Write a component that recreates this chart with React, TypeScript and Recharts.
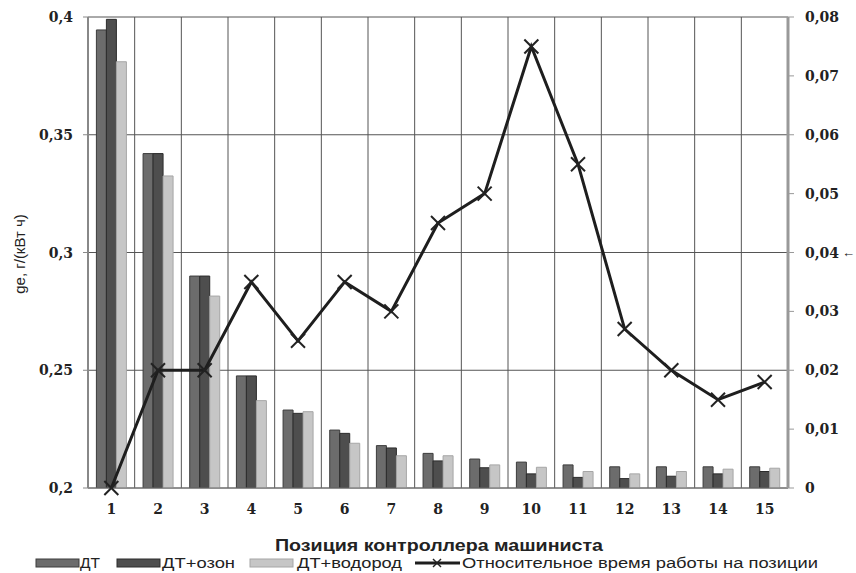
import React from 'react';
import { ComposedChart, Bar, Line, XAxis, YAxis, CartesianGrid } from 'recharts';

const positions = ['1', '2', '3', '4', '5', '6', '7', '8', '9', '10', '11', '12', '13', '14', '15'];
const dtValues = [0.3945, 0.342, 0.29, 0.2476, 0.2331, 0.2246, 0.218, 0.2147, 0.2123, 0.211, 0.2098, 0.209, 0.209, 0.209, 0.209];
const ozoneValues = [0.399, 0.342, 0.29, 0.2476, 0.2317, 0.2232, 0.217, 0.2115, 0.2086, 0.206, 0.2045, 0.204, 0.205, 0.206, 0.207];
const hydrogenValues = [0.381, 0.3325, 0.2815, 0.2371, 0.2324, 0.219, 0.2137, 0.2137, 0.2098, 0.2088, 0.207, 0.206, 0.207, 0.208, 0.2084];
const timeShare = [0, 0.02, 0.02, 0.035, 0.025, 0.035, 0.03, 0.045, 0.05, 0.075, 0.055, 0.027, 0.02, 0.015, 0.018];

const leftTicks = [0.2, 0.25, 0.3, 0.35, 0.4];
const rightTicks = [0, 0.01, 0.02, 0.03, 0.04, 0.05, 0.06, 0.07, 0.08];

const seriesNames = ['ДТ', 'ДТ+озон', 'ДТ+водород', 'Относительное время работы на позиции'];
const xTitle = 'Позиция контроллера машиниста';
const yTitle = 'ge, г/(кВт ч)';

const data = positions.map((p, i) => ({
  pos: p,
  dt: dtValues[i],
  ozone: ozoneValues[i],
  hydrogen: hydrogenValues[i],
  time: timeShare[i],
}));

const fmt = (v: number) => (v === 0 ? '0' : String(v).replace('.', ','));

const tickFont: any = { fontFamily: "'DejaVu Serif', serif", fontWeight: 'bold', fontSize: 14, fill: '#222' };

const LeftTick = (props: any) => {
  const { x, y, payload } = props;
  return (
    <text x={x} y={y} dy={5} textAnchor="end" style={tickFont}>
      {fmt(payload.value)}
    </text>
  );
};

const RightTick = (props: any) => {
  const { x, y, payload } = props;
  return (
    <text x={x} y={y} dy={5} textAnchor="start" style={tickFont}>
      {fmt(payload.value)}
    </text>
  );
};

const BottomTick = (props: any) => {
  const { x, y, payload } = props;
  return (
    <text x={x} y={y} dy={12} textAnchor="middle" style={tickFont}>
      {payload.value}
    </text>
  );
};

const CrossDot = (props: any) => {
  const { cx, cy, index } = props;
  if (cx == null || cy == null) return null;
  const s = 7;
  return (
    <g key={`x-${index}`}>
      <line x1={cx - s} y1={cy - s} x2={cx + s} y2={cy + s} stroke="#222" strokeWidth={2} />
      <line x1={cx - s} y1={cy + s} x2={cx + s} y2={cy - s} stroke="#222" strokeWidth={2} />
    </g>
  );
};

const vGen = (props: any) => {
  const off = props && props.offset ? props.offset : { left: 88, width: 700 };
  const arr: number[] = [];
  for (let k = 1; k < 15; k++) arr.push(off.left + (k * off.width) / 15);
  return arr;
};

export default function App() {
  const legendFont = { fontFamily: 'Liberation Sans', fontSize: 14, fill: '#222' } as any;
  return (
    <div style={{ position: 'absolute', left: 0, top: 0, width: 856, height: 573, background: '#fff' }}>
      <div style={{ position: 'absolute', left: 0, top: 0 }}>
        <ComposedChart
          width={856}
          height={573}
          data={data}
          margin={{ top: 17, right: 8, left: 28, bottom: 55 }}
          barCategoryGap="18%"
          barGap={0}
        >
          <CartesianGrid yAxisId="left" stroke="#555" strokeWidth={1} verticalCoordinatesGenerator={vGen} />
          <XAxis
            dataKey="pos"
            height={30}
            tick={BottomTick}
            tickLine={false}
            tickMargin={8}
            axisLine={{ stroke: '#777', strokeWidth: 1 }}
          />
          <YAxis
            yAxisId="left"
            width={60}
            domain={[0.2, 0.4]}
            ticks={leftTicks}
            tick={LeftTick}
            tickSize={5}
            tickMargin={10}
            axisLine={{ stroke: '#888', strokeWidth: 2 }}
            tickLine={{ stroke: '#888' }}
            allowDataOverflow
          />
          <YAxis
            yAxisId="right"
            orientation="right"
            width={60}
            domain={[0, 0.08]}
            ticks={rightTicks}
            tick={RightTick}
            tickSize={6}
            tickMargin={11}
            axisLine={{ stroke: '#999', strokeWidth: 3 }}
            tickLine={{ stroke: '#999' }}
          />
          <Bar yAxisId="left" dataKey="dt" name={seriesNames[0]} fill="#6c6c6c" stroke="#3c3c3c" strokeWidth={1} isAnimationActive={false} />
          <Bar yAxisId="left" dataKey="ozone" name={seriesNames[1]} fill="#4e4e4e" stroke="#2c2c2c" strokeWidth={1} isAnimationActive={false} />
          <Bar yAxisId="left" dataKey="hydrogen" name={seriesNames[2]} fill="#c6c6c6" stroke="#a6a6a6" strokeWidth={1} isAnimationActive={false} />
          <Line
            yAxisId="right"
            type="linear"
            dataKey="time"
            name={seriesNames[3]}
            stroke="#1e1e1e"
            strokeWidth={3}
            dot={CrossDot}
            activeDot={false}
            isAnimationActive={false}
          />
        </ComposedChart>
      </div>
      <svg width={856} height={573} style={{ position: 'absolute', left: 0, top: 0, pointerEvents: 'none' }}>
        <text
          x={0}
          y={0}
          transform="translate(25,254) rotate(-90)"
          textAnchor="middle"
          style={{ fontFamily: 'Liberation Sans', fontSize: 15, fill: '#222' }}
        >
          {yTitle}
        </text>
        <text x={842} y={257} style={{ fontFamily: 'Liberation Sans', fontSize: 13, fill: '#222', fontWeight: 700 }}>
          ←
        </text>
        <text
          x={275}
          y={551}
          textLength={328}
          lengthAdjust="spacingAndGlyphs"
          style={{ fontFamily: 'Liberation Sans', fontSize: 16, fontWeight: 700, fill: '#222' }}
        >
          {xTitle}
        </text>
        <rect x={36} y={559} width={43} height={8} fill="#6c6c6c" stroke="#3c3c3c" />
        <text x={80} y={568} textLength={20} lengthAdjust="spacingAndGlyphs" style={legendFont}>{seriesNames[0]}</text>
        <rect x={117} y={559} width={43} height={8} fill="#4e4e4e" stroke="#2c2c2c" />
        <text x={162} y={568} textLength={73} lengthAdjust="spacingAndGlyphs" style={legendFont}>{seriesNames[1]}</text>
        <rect x={250} y={559} width={43} height={8} fill="#c6c6c6" stroke="#a6a6a6" />
        <text x={297} y={568} textLength={105} lengthAdjust="spacingAndGlyphs" style={legendFont}>{seriesNames[2]}</text>
        <line x1={415} y1={563} x2={460} y2={563} stroke="#1e1e1e" strokeWidth={3} />
        <line x1={433} y1={559} x2={441} y2={567} stroke="#222" strokeWidth={1.5} />
        <line x1={433} y1={567} x2={441} y2={559} stroke="#222" strokeWidth={1.5} />
        <text x={462} y={568} textLength={356} lengthAdjust="spacingAndGlyphs" style={legendFont}>{seriesNames[3]}</text>
      </svg>
    </div>
  );
}
